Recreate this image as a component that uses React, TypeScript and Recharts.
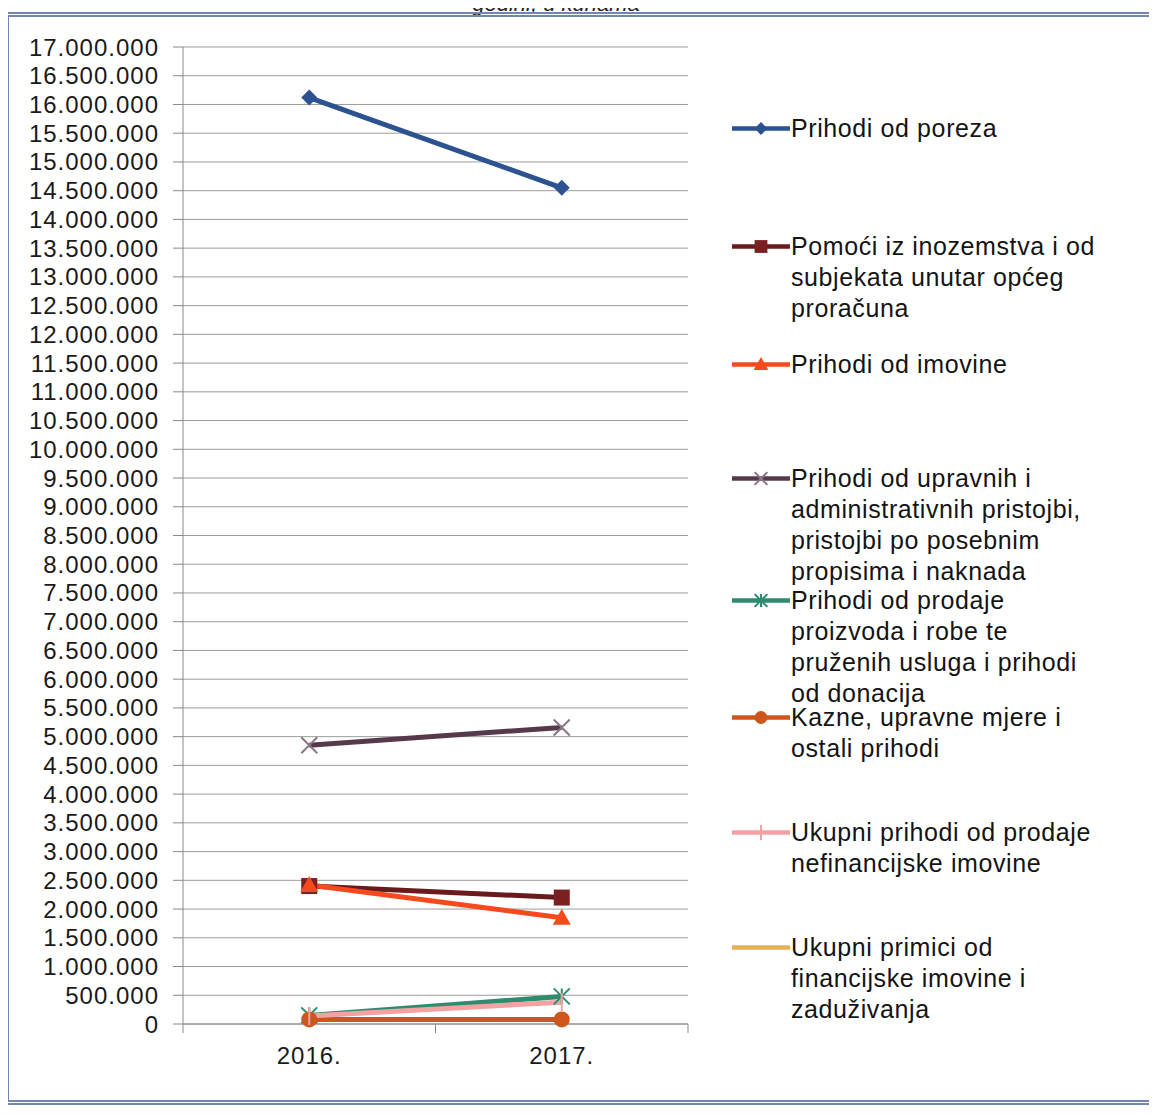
import React from 'react';
import { LineChart, Line, XAxis, YAxis, CartesianGrid, Legend } from 'recharts';

const FONT = '"Liberation Sans", Arial, sans-serif';

const years = ['2016.', '2017.'];

const seriesNames = [
  'Prihodi od poreza',
  'Pomoći iz inozemstva i od\nsubjekata unutar općeg\nproračuna',
  'Prihodi od imovine',
  'Prihodi od upravnih i\nadministrativnih pristojbi,\npristojbi po posebnim\npropisima i naknada',
  'Prihodi od prodaje\nproizvoda i robe te\npruženih usluga i prihodi\nod donacija',
  'Kazne, upravne mjere i\nostali prihodi',
  'Ukupni prihodi od prodaje\nnefinancijske imovine',
  'Ukupni primici od\nfinancijske imovine i\nzaduživanja',
];

const porezi = [16120000, 14550000];
const pomoci = [2400000, 2200000];
const imovina = [2420000, 1850000];
const pristojbe = [4850000, 5160000];
const prodaja = [150000, 480000];
const kazne = [80000, 80000];
const nefinancijska = [140000, 380000];
const financijska = [null, null];

const yTicks = [
  0, 500000, 1000000, 1500000, 2000000, 2500000, 3000000, 3500000, 4000000,
  4500000, 5000000, 5500000, 6000000, 6500000, 7000000, 7500000, 8000000,
  8500000, 9000000, 9500000, 10000000, 10500000, 11000000, 11500000, 12000000,
  12500000, 13000000, 13500000, 14000000, 14500000, 15000000, 15500000,
  16000000, 16500000, 17000000,
];

const seriesValues = [porezi, pomoci, imovina, pristojbe, prodaja, kazne, nefinancijska, financijska];

// styling per series (same order as names)
const lineColors = ['#2C5290', '#6A1A1A', '#F54A1E', '#563A4C', '#2E8B6E', '#CC561C', '#F2A2A2', '#E6B055'];
const markerColors = ['#2C5290', '#7A2020', '#F54A1E', '#8A7684', '#2E8B6E', '#CC561C', '#F2A2A2', '#E6B055'];
const markerShapes = ['diamond', 'square', 'triangle', 'x', 'star', 'circle', 'plus', 'none'];
const legendTops = [128, 246, 364, 478, 600, 717, 832, 947];

const data = years.map((year, i) => {
  const row: Record<string, any> = { year };
  seriesValues.forEach((vals, s) => {
    row['s' + s] = vals[i];
  });
  return row;
});

const fmt = (v: number) => String(v).replace(/\B(?=(\d{3})+(?!\d))/g, '.');

function Marker({ shape, cx, cy, color, k = 1 }: any) {
  const r = 8 * k;
  switch (shape) {
    case 'diamond':
      return <path d={`M${cx},${cy - r}L${cx + r},${cy}L${cx},${cy + r}L${cx - r},${cy}Z`} fill={color} />;
    case 'square':
      return <rect x={cx - r} y={cy - r} width={2 * r} height={2 * r} fill={color} />;
    case 'triangle':
      return <path d={`M${cx},${cy - r - 1}L${cx + r + 1},${cy + r - 1}L${cx - r - 1},${cy + r - 1}Z`} fill={color} />;
    case 'x':
      return (
        <path
          d={`M${cx - r},${cy - r}L${cx + r},${cy + r}M${cx + r},${cy - r}L${cx - r},${cy + r}`}
          stroke={color}
          strokeWidth={2}
        />
      );
    case 'star':
      return (
        <path
          d={`M${cx - r},${cy - r}L${cx + r},${cy + r}M${cx + r},${cy - r}L${cx - r},${cy + r}M${cx},${cy - r}L${cx},${cy + r}`}
          stroke={color}
          strokeWidth={2}
        />
      );
    case 'circle':
      return <circle cx={cx} cy={cy} r={r} fill={color} />;
    case 'plus':
      return <path d={`M${cx},${cy - r - 1}L${cx},${cy + r + 1}`} stroke={color} strokeWidth={2} />;
    default:
      return null;
  }
}

const HALF_BAND = 126.25;

function XTick(props: any) {
  const { x, y, payload, index } = props;
  return (
    <g>
      <line x1={x - HALF_BAND} x2={x - HALF_BAND} y1={y} y2={y + 9} stroke="#8a8a8a" />
      {index === years.length - 1 && (
        <line x1={x + HALF_BAND} x2={x + HALF_BAND} y1={y} y2={y + 9} stroke="#8a8a8a" />
      )}
      <text
        x={x}
        y={y + 34}
        textAnchor="middle"
        dominantBaseline="middle"
        fontSize={24}
        fontFamily={FONT}
        fill="#1a1a1a"
        style={{ letterSpacing: 1 }}
      >
        {payload.value}
      </text>
    </g>
  );
}

function LegendContent({ payload }: any) {
  const entries = (payload || []).slice();
  return (
    <div style={{ position: 'relative', width: 1157, height: 1115 }}>
      {entries.map((entry: any) => {
        const idx = Number(String(entry.dataKey).slice(1));
        const top = legendTops[idx];
        return (
          <div key={entry.dataKey} style={{ position: 'absolute', left: 730, top: top - 15.5 }}>
            <svg width={62} height={31} style={{ position: 'absolute', left: 0, top: 0 }}>
              <line x1={2} x2={60} y1={15.5} y2={15.5} stroke={lineColors[idx]} strokeWidth={4.5} />
              <Marker shape={markerShapes[idx]} cx={31} cy={15.5} color={markerColors[idx]} k={0.8} />
            </svg>
            <div
              style={{
                position: 'absolute',
                left: 61,
                top: 0,
                whiteSpace: 'pre',
                fontFamily: FONT,
                fontSize: 25,
                lineHeight: '31px',
                letterSpacing: 0.6,
                color: '#141414',
              }}
            >
              {seriesNames[idx]}
            </div>
          </div>
        );
      })}
    </div>
  );
}

export default function App() {
  return (
    <div
      style={{
        position: 'relative',
        width: 1157,
        height: 1115,
        margin: -8,
        overflow: 'hidden',
        background: '#fff',
      }}
    >
      <div
        style={{
          position: 'absolute',
          left: 0,
          width: 1112,
          top: -7,
          textAlign: 'center',
          fontFamily: FONT,
          fontStyle: 'italic',
          fontSize: 22,
          lineHeight: '22px',
          color: '#222',
        }}
      >
        godini, u kunama
      </div>
      <div
        style={{
          position: 'absolute',
          left: 4,
          top: 12,
          width: 1143,
          height: 1083,
          border: '5px double #7186b4',
        }}
      />
      <div style={{ position: 'absolute', left: 0, top: 0 }}>
        <LineChart width={1157} height={1115} data={data} margin={{ top: 47, right: 469, bottom: 0, left: 0 }}>
          <CartesianGrid vertical={false} stroke="#9c9c9c" />
          <XAxis
            dataKey="year"
            height={91}
            padding={{ left: HALF_BAND, right: HALF_BAND }}
            axisLine={{ stroke: '#8a8a8a' }}
            tickLine={false}
            tickSize={0}
            tickMargin={0}
            interval={0}
            tick={<XTick />}
          />
          <YAxis
            width={183}
            domain={[0, 17000000]}
            ticks={yTicks}
            interval={0}
            tickFormatter={fmt}
            axisLine={{ stroke: '#8a8a8a' }}
            tickLine={{ stroke: '#8a8a8a' }}
            tickSize={10}
            tickMargin={14}
            tick={{ fontSize: 24, fill: '#1a1a1a', fontFamily: FONT, style: { letterSpacing: 1 } } as any}
          />
          <Legend
            layout="vertical"
            align="center"
            verticalAlign="middle"
            wrapperStyle={{ left: 0, top: 0, width: 1157, height: 1115 }}
            content={<LegendContent />}
          />
          {seriesNames.map((name, s) => (
            <Line
              key={s}
              dataKey={'s' + s}
              name={name.replace(/\n/g, ' ')}
              stroke={lineColors[s]}
              strokeWidth={5}
              isAnimationActive={false}
              dot={(p: any) =>
                p.cy == null ? (
                  <g key={p.index} />
                ) : (
                  <Marker key={p.index} shape={markerShapes[s]} cx={p.cx} cy={p.cy} color={markerColors[s]} />
                )
              }
              activeDot={false}
            />
          ))}
        </LineChart>
      </div>
    </div>
  );
}
